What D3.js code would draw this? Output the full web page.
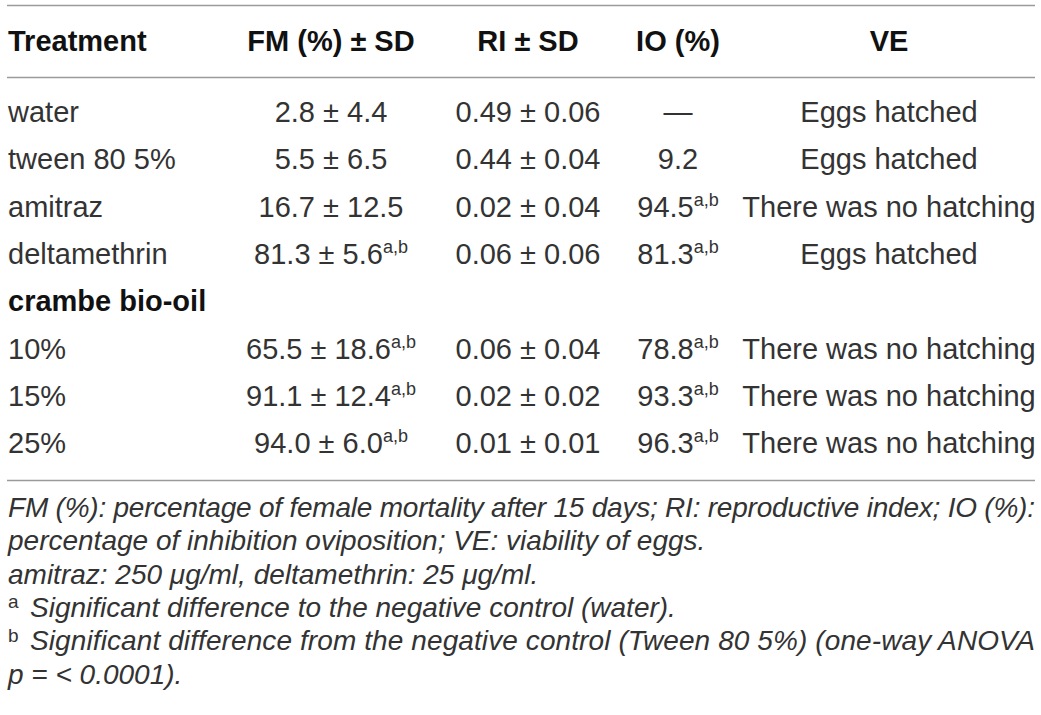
<!DOCTYPE html>
<html>
<head>
<meta charset="utf-8">
<script src="https://cdn.jsdelivr.net/npm/d3@7"></script>
<style>
  body { margin: 0; background: #fff; }
  svg { display: block; font-family: "Liberation Sans", Arial, sans-serif; }
</style>
</head>
<body>
<svg id="table"></svg>
<script>
// table contents
const headers = ["Treatment", "FM (%) \u00b1 SD", "RI \u00b1 SD", "IO (%)", "VE"];
const treatments = ["water", "tween 80 5%", "amitraz", "deltamethrin", "crambe bio-oil", "10%", "15%", "25%"];
const groupRows = ["crambe bio-oil"];
const fmMean = [2.8, 5.5, 16.7, 81.3, null, 65.5, 91.1, 94.0];
const fmSD = [4.4, 6.5, 12.5, 5.6, null, 18.6, 12.4, 6.0];
const fmSig = ["", "", "", "a,b", "", "a,b", "a,b", "a,b"];
const riMean = [0.49, 0.44, 0.02, 0.06, null, 0.06, 0.02, 0.01];
const riSD = [0.06, 0.04, 0.04, 0.06, null, 0.04, 0.02, 0.01];
const io = [null, 9.2, 94.5, 81.3, null, 78.8, 93.3, 96.3];
const ioSig = ["", "", "a,b", "a,b", "", "a,b", "a,b", "a,b"];
const ve = ["Eggs hatched", "Eggs hatched", "There was no hatching", "Eggs hatched", "",
            "There was no hatching", "There was no hatching", "There was no hatching"];

const footnotes = [
  {sup: "", text: "FM (%): percentage of female mortality after 15 days; RI: reproductive index; IO (%):", justify: true},
  {sup: "", text: "percentage of inhibition oviposition; VE: viability of eggs.", justify: false},
  {sup: "", text: "amitraz: 250 \u03bcg/ml, deltamethrin: 25 \u03bcg/ml.", justify: false},
  {sup: "a", text: "Significant difference to the negative control (water).", justify: false},
  {sup: "b", text: "Significant difference from the negative control (Tween 80 5%) (one-way ANOVA", justify: true},
  {sup: "", text: "p = < 0.0001).", justify: false}
];

function main() {
  const width = 1041, height = 715;
  const left = 7, right = 1035;
  const textCol = "#333";
  const fs = 29, supFs = 18, noteFs = 28;

  const svg = d3.select("#table")
    .attr("width", width)
    .attr("height", height);

  svg.append("rect").attr("width", width).attr("height", height).attr("fill", "#fff");

  // column centres (first column is left aligned)
  const colX = d3.scaleOrdinal()
    .domain(headers)
    .range([left + 1, 331, 528, 678, 889]);
  const anchor = h => h === headers[0] ? "start" : "middle";

  const rowY = d3.scalePoint()
    .domain(treatments)
    .range([112, 443]);

  const headerY = 41;
  const f1 = d3.format(".1f"), f2 = d3.format(".2f");

  // rules
  [5.5, 77.5, 480.5].forEach(y => {
    svg.append("line")
      .attr("x1", left).attr("x2", right)
      .attr("y1", y).attr("y2", y)
      .attr("stroke", "#9a9a9a")
      .attr("stroke-width", 1.5);
  });

  // header
  svg.append("g").selectAll("text")
    .data(headers).enter()
    .append("text")
      .attr("x", d => colX(d))
      .attr("y", headerY)
      .attr("dy", "0.35em")
      .attr("text-anchor", d => anchor(d))
      .attr("font-size", fs)
      .attr("font-weight", "bold")
      .attr("fill", "#111")
      .text(d => d);

  function cell(g, x, y, main, sup, bold, anchorVal) {
    const t = g.append("text")
      .attr("x", x)
      .attr("y", y)
      .attr("dy", "0.35em")
      .attr("text-anchor", anchorVal)
      .attr("font-size", fs)
      .attr("font-weight", bold ? "bold" : "normal")
      .attr("fill", bold ? "#111" : textCol);
    t.append("tspan").text(main);
    if (sup) {
      t.append("tspan")
        .attr("font-size", supFs)
        .attr("dy", "-0.6em")
        .text(sup);
    }
  }

  const body = svg.append("g");
  treatments.forEach((name, i) => {
    const y = rowY(name);
    const isGroup = groupRows.includes(name);
    cell(body, colX(headers[0]), y, name, "", isGroup, "start");
    if (isGroup) return;
    cell(body, colX(headers[1]), y, `${f1(fmMean[i])} \u00b1 ${f1(fmSD[i])}`, fmSig[i], false, "middle");
    cell(body, colX(headers[2]), y, `${f2(riMean[i])} \u00b1 ${f2(riSD[i])}`, "", false, "middle");
    cell(body, colX(headers[3]), y, io[i] === null ? "\u2014" : f1(io[i]), ioSig[i], false, "middle");
    cell(body, colX(headers[4]), y, ve[i], "", false, "middle");
  });

  // footnotes
  const noteY = d3.scaleLinear().domain([0, footnotes.length - 1]).range([507, 674]);
  const notes = svg.append("g");
  footnotes.forEach((n, i) => {
    const y = noteY(i);
    let x = left + 1;
    if (n.sup) {
      notes.append("text")
        .attr("x", x).attr("y", y).attr("dy", "0.05em")
        .attr("font-size", 19)
        .attr("fill", textCol)
        .text(n.sup);
      x += 22;
    }
    const t = notes.append("text")
      .attr("x", x).attr("y", y).attr("dy", "0.35em")
      .attr("font-size", noteFs)
      .attr("font-style", "italic")
      .attr("fill", textCol)
      .text(n.text);
    if (n.justify) {
      t.attr("textLength", right - x).attr("lengthAdjust", "spacing");
    }
  });
}

window.addEventListener("load", main);
</script>
</body>
</html>
